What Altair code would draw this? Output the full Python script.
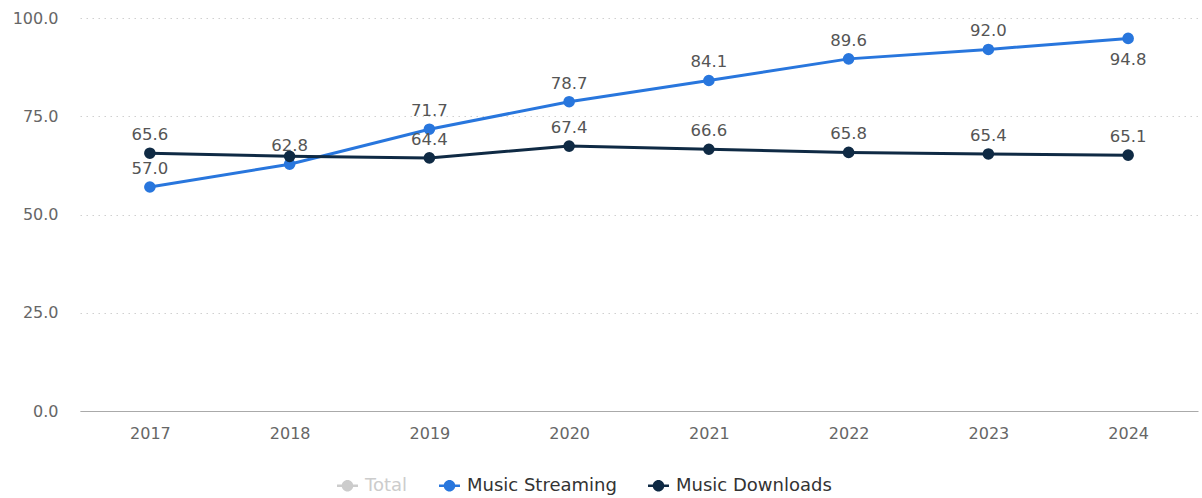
import altair as alt
import pandas as pd

years = ["2017", "2018", "2019", "2020", "2021", "2022", "2023", "2024"]
streaming = [57.0, 62.8, 71.7, 78.7, 84.1, 89.6, 92.0, 94.8]
downloads = [65.6, 64.8, 64.4, 67.4, 66.6, 65.8, 65.4, 65.1]
streaming_labels = ["57.0", "62.8", "71.7", "78.7", "84.1", "89.6", "92.0", "94.8"]
downloads_labels = ["65.6", "", "64.4", "67.4", "66.6", "65.8", "65.4", "65.1"]
series_names = ["Total", "Music Streaming", "Music Downloads"]
series_colors = ["#cccccc", "#2876dd", "#0f2a44"]

rows = []
for y, v, l in zip(years, streaming, streaming_labels):
    rows.append({"year": y, "value": v, "label": l, "series": "Music Streaming"})
for y, v, l in zip(years, downloads, downloads_labels):
    rows.append({"year": y, "value": v, "label": l, "series": "Music Downloads"})
df = pd.DataFrame(rows)

FONT = "DejaVu Sans"

legend_path = ("M -1 -0.12 L 1 -0.12 L 1 0.12 L -1 0.12 Z "
               "M -0.55 0 A 0.55 0.55 0 1 1 0.55 0 A 0.55 0.55 0 1 1 -0.55 0 Z")

x_enc = alt.X("year:O", sort=years, title=None,
              axis=alt.Axis(labelAngle=0, labelFont=FONT, labelFontSize=16,
                            labelColor="#666666", labelPadding=14, ticks=False,
                            domain=True, domainColor="#aaaaaa", domainWidth=1,
                            grid=False))
y_enc = alt.Y("value:Q", title=None,
              scale=alt.Scale(domain=[0, 100], nice=False),
              axis=alt.Axis(values=[0, 25, 50, 75, 100], format=".1f",
                            labelFont=FONT, labelFontSize=16, labelColor="#666666",
                            labelPadding=22, ticks=False, domain=False,
                            grid=True, gridColor="#d0d0d0", gridDash=[1.5, 4.5],
                            gridWidth=1.2))
color_enc = alt.Color("series:N",
                      scale=alt.Scale(domain=series_names, range=series_colors),
                      legend=alt.Legend(
                          title=None, orient="none", direction="horizontal",
                          legendX=257, legendY=457,
                          symbolType=legend_path, symbolSize=440,
                          symbolStrokeWidth=0, symbolOpacity=1,
                          labelFont=FONT, labelFontSize=18,
                          labelOffset=7, columnPadding=31,
                          labelColor=alt.ExprRef(
                              "datum.label == 'Total' ? '#cccccc' : '#333333'")))

base = alt.Chart(df)

lines = base.mark_line(strokeWidth=3).encode(
    x=x_enc, y=y_enc, color=color_enc, detail="series:N")

points = base.mark_point(filled=True, size=135, opacity=1).encode(
    x=x_enc, y=y_enc, color=color_enc)

labels_above = base.transform_filter(
    "!(datum.series == 'Music Streaming' && datum.year == '2024') && datum.label != ''"
).mark_text(dy=-18, font=FONT, fontSize=16.5, color="#555555").encode(
    x=x_enc, y=y_enc, text="label:N")

labels_below = base.transform_filter(
    "datum.series == 'Music Streaming' && datum.year == '2024'"
).mark_text(dy=22, font=FONT, fontSize=16.5, color="#555555").encode(
    x=x_enc, y=y_enc, text="label:N")

chart = alt.layer(lines, points, labels_above, labels_below).properties(
    width=1118, height=393,
    background="white",
    autosize=alt.AutoSizeParams(type="none"),
    padding={"left": 80, "top": 18, "right": 4, "bottom": 87},
).configure_view(stroke=None)

chart.save("out.html", embed_options={"renderer": "svg", "actions": False})
